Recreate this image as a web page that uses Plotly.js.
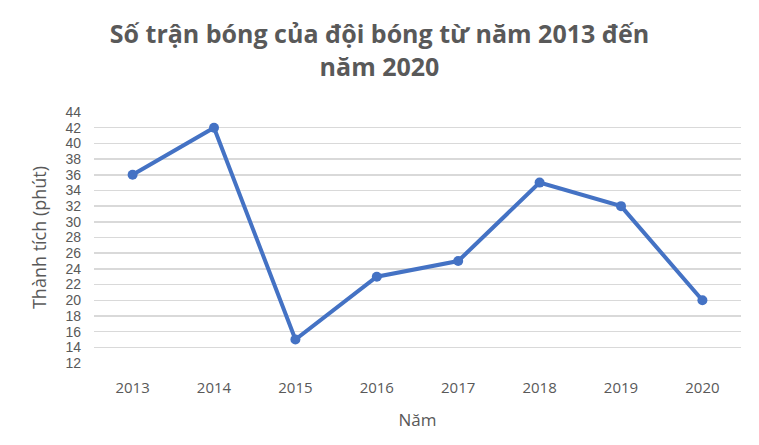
<!DOCTYPE html>
<html><head><meta charset="utf-8">
<script src="https://cdn.plot.ly/plotly-3.0.1.min.js"></script>
<style>html,body{margin:0;padding:0;background:#fff}</style>
</head><body>
<div id="chart" style="width:759px;height:445px"></div>
<script>
const years = ['2013','2014','2015','2016','2017','2018','2019','2020'];
const values = [36, 42, 15, 23, 25, 35, 32, 20];
const titleText = 'Số trận bóng của đội bóng từ năm 2013 đến<br>năm 2020';
const xTitle = 'Năm';
const yTitle = 'Thành tích (phút)';

const font = 'Open Sans, Liberation Sans, sans-serif';
const tickFont = 'Liberation Sans, Arial, sans-serif';
Plotly.newPlot('chart', [{
  x: years, y: values, type: 'scatter', mode: 'lines+markers',
  line: {color: '#4472C4', width: 4},
  marker: {color: '#4472C4', size: 10}
}], {
  width: 759, height: 445,
  margin: {l: 94, r: 18, t: 112, b: 82},
  paper_bgcolor: '#fff', plot_bgcolor: '#fff',
  showlegend: false,
  title: {text: titleText, font: {family: font, size: 25, color: '#595959', weight: 'bold'},
          xref: 'container', x: 0.5, xanchor: 'center', yref: 'container', y: 0.903, yanchor: 'middle'},
  xaxis: {type: 'category', showgrid: false, zeroline: false, showline: false,
          ticks: '', ticklabelstandoff: 14, tickfont: {family: font, size: 15, color: '#595959'},
          title: {text: xTitle, font: {family: font, size: 17, color: '#595959'}, standoff: 18}},
  yaxis: {range: [12, 44], dtick: 2, tick0: 12, showgrid: true, gridcolor: '#d9d9d9', gridwidth: 1.5,
          zeroline: false, showline: false, ticks: '', ticklabelstandoff: 12,
          tickfont: {family: tickFont, size: 14, color: '#595959'},
          title: {text: yTitle, font: {family: font, size: 18, color: '#595959'}, standoff: 14}}
}, {displayModeBar: false, staticPlot: true});
</script>
</body></html>
